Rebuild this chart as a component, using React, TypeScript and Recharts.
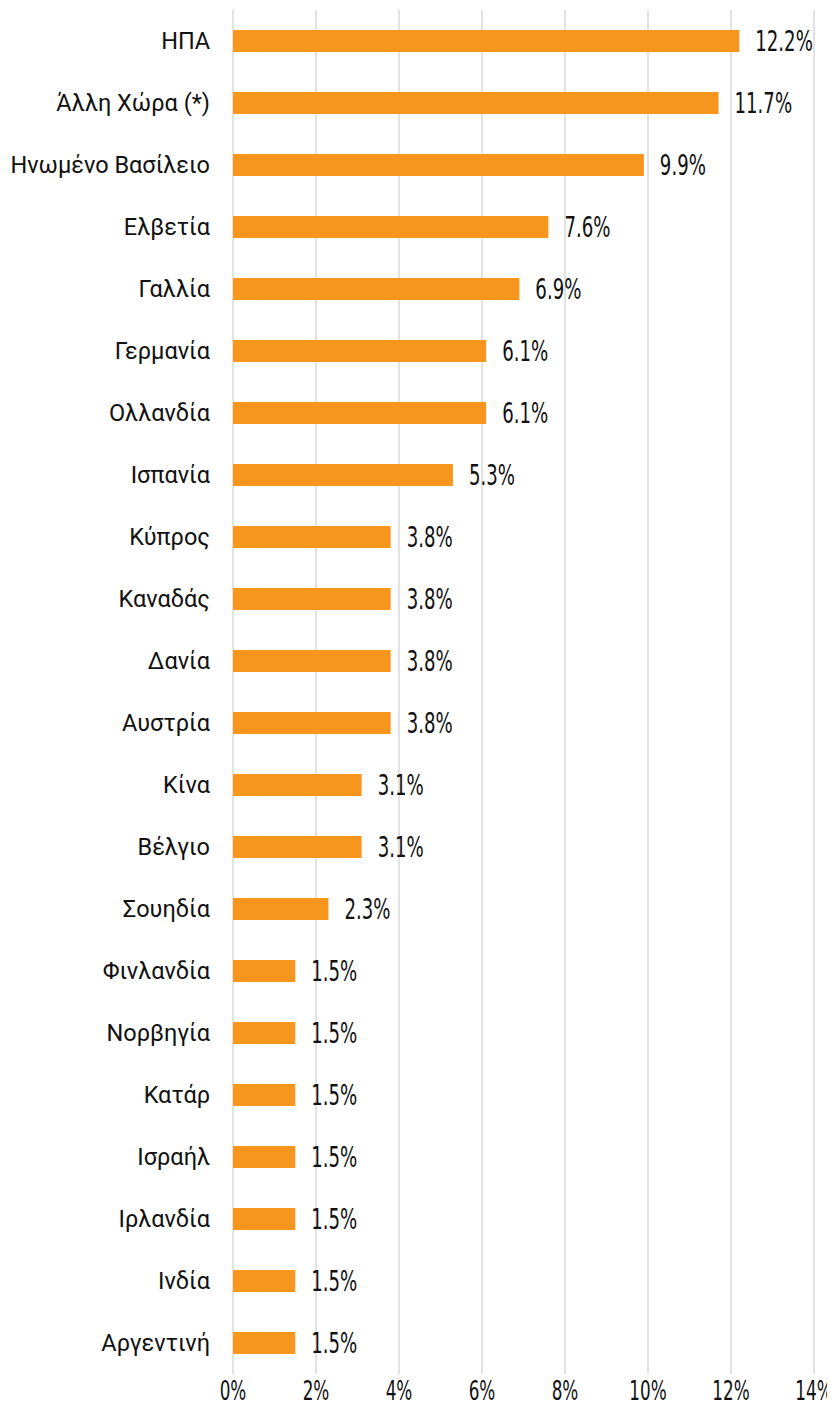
import React from 'react';
import { BarChart, Bar, XAxis, YAxis, CartesianGrid, LabelList } from 'recharts';

const countries = [
  'ΗΠΑ', 'Άλλη Χώρα (*)', 'Ηνωμένο Βασίλειο', 'Ελβετία', 'Γαλλία', 'Γερμανία', 'Ολλανδία', 'Ισπανία',
  'Κύπρος', 'Καναδάς', 'Δανία', 'Αυστρία', 'Κίνα', 'Βέλγιο', 'Σουηδία', 'Φινλανδία', 'Νορβηγία',
  'Κατάρ', 'Ισραήλ', 'Ιρλανδία', 'Ινδία', 'Αργεντινή',
];
const shares = [12.2, 11.7, 9.9, 7.6, 6.9, 6.1, 6.1, 5.3, 3.8, 3.8, 3.8, 3.8, 3.1, 3.1, 2.3, 1.5, 1.5, 1.5, 1.5, 1.5, 1.5, 1.5];
const xTicks = [0, 2, 4, 6, 8, 10, 12, 14];

const data = countries.map((c, i) => ({ country: c, value: shares[i] }));

const condensed = "'DejaVu Sans Condensed', 'DejaVu Sans', sans-serif";
const SQUEEZE = 0.72;

const ValueLabel = (props: any) => {
  const { x, y, width, height, value } = props;
  const tx = Number(x) + Number(width) + 16;
  const ty = Number(y) + Number(height) / 2;
  return (
    <text
      transform={`translate(${tx},${ty}) scale(${SQUEEZE},1)`}
      x={0}
      y={0}
      dy="0.36em"
      fill="#111"
      fontSize={28}
      fontFamily={condensed}
      textAnchor="start"
    >
      {`${Number(value).toFixed(1)}%`}
    </text>
  );
};

const XTick = (props: any) => {
  const { x, y, payload } = props;
  return (
    <text
      transform={`translate(${x},${Number(y) + 6}) scale(${SQUEEZE},1)`}
      x={0}
      y={0}
      dy="0.71em"
      fill="#111"
      fontSize={26}
      fontFamily={condensed}
      textAnchor="middle"
    >
      {`${payload.value}%`}
    </text>
  );
};

export default function App() {
  return (
    <BarChart
      width={827}
      height={1410}
      data={data}
      layout="vertical"
      margin={{ top: 2, right: 21, bottom: 4, left: 0 }}
    >
      <CartesianGrid horizontal={false} vertical={true} stroke="#D9D9D9" strokeWidth={1.5} />
      <XAxis
        type="number"
        domain={[0, 14]}
        ticks={xTicks}
        axisLine={false}
        tickLine={false}
        height={40}
        tickSize={0}
        interval={0}
        tick={<XTick />}
      />
      <YAxis
        type="category"
        dataKey="country"
        width={225}
        axisLine={false}
        tickLine={false}
        tickSize={0}
        tickMargin={23}
        interval={0}
        tick={{ fill: '#111', fontSize: 23.5, fontFamily: 'Roboto, sans-serif' }}
      />
      <Bar dataKey="value" fill="#F7961E" barSize={22} isAnimationActive={false}>
        <LabelList dataKey="value" content={<ValueLabel />} />
      </Bar>
    </BarChart>
  );
}
